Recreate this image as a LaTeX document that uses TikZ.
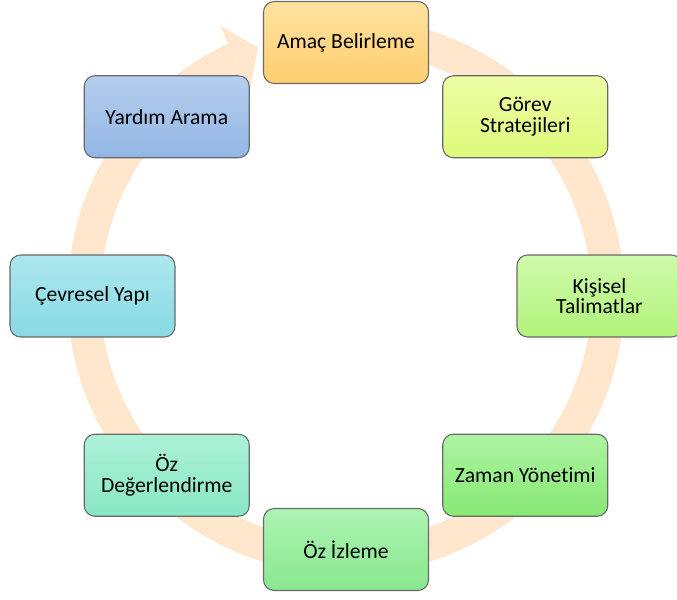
\documentclass[tikz,border=0pt]{standalone}
\usepackage{fontspec}
\setmainfont{Carlito}[Ligatures={NoCommon}]
\usepackage{tikz}
\usetikzlibrary{positioning}

\definecolor{band}{RGB}{255,231,206}
\definecolor{edge}{RGB}{105,105,105}
\definecolor{amacT}{RGB}{255,226,160}\definecolor{amacB}{RGB}{255,206,112}
\definecolor{gorevT}{RGB}{238,252,165}\definecolor{gorevB}{RGB}{222,250,122}
\definecolor{kisiT}{RGB}{208,250,172}\definecolor{kisiB}{RGB}{176,243,122}
\definecolor{zamanT}{RGB}{172,243,162}\definecolor{zamanB}{RGB}{136,232,116}
\definecolor{izleT}{RGB}{172,243,178}\definecolor{izleB}{RGB}{136,232,142}
\definecolor{degT}{RGB}{172,241,216}\definecolor{degB}{RGB}{136,231,196}
\definecolor{cevT}{RGB}{172,231,238}\definecolor{cevB}{RGB}{136,218,228}
\definecolor{yarT}{RGB}{182,206,238}\definecolor{yarB}{RGB}{146,182,228}

\begin{document}
\begin{tikzpicture}[x=0.75pt,y=0.75pt,
  phase/.style={draw=edge,line width=0.8pt,rounded corners=8pt,
    minimum width=123.75pt,minimum height=61.5pt,align=center,
    font=\fontsize{16.2pt}{15.5pt}\selectfont}]
\useasboundingbox (-346,-303) rectangle (331,296);
% Circular arrow behind the boxes
\draw[band,line width=24.75pt] (80:262) arc[start angle=80,end angle=-245,radius=262];
\fill[band] (115:298) -- (109.5:264) -- (115:227) -- cycle;
% Phases
\node[phase,top color=amacT,bottom color=amacB] (amac) at (90:253.5) {Amaç Belirleme};
\node[phase,top color=gorevT,bottom color=gorevB] (gorev) at (45:253.5) {Görev\\Stratejileri};
\node[phase,top color=kisiT,bottom color=kisiB] (kisisel) at (0:253.5) {Kişisel\\Talimatlar};
\node[phase,top color=zamanT,bottom color=zamanB] (zaman) at (-45:253.5) {Zaman Yönetimi};
\node[phase,top color=izleT,bottom color=izleB] (izleme) at (-90:253.5) {Öz İzleme};
\node[phase,top color=degT,bottom color=degB] (degerl) at (-135:253.5) {Öz\\Değerlendirme};
\node[phase,top color=cevT,bottom color=cevB] (cevre) at (180:253.5) {Çevresel Yapı};
\node[phase,top color=yarT,bottom color=yarB] (yardim) at (135:253.5) {Yardım Arama};
\end{tikzpicture}
\end{document}
